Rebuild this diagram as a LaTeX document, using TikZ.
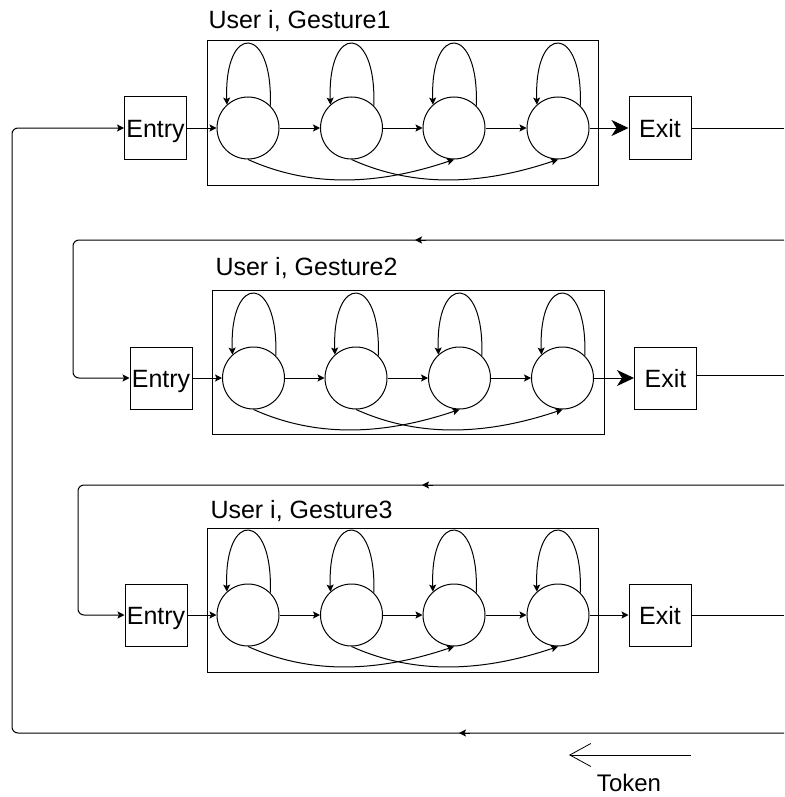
\documentclass[tikz,border=0pt]{standalone}
\usepackage{fontspec}
\setmainfont{Liberation Sans}
\usetikzlibrary{arrows.meta}
\begin{document}
\begin{tikzpicture}[x=1pt,y=-1pt, line width=1pt,
  box/.style={draw, minimum width=62pt, minimum height=62pt, inner sep=0pt, text height=18pt, text depth=0pt, font=\fontsize{25}{29}\selectfont},
  st/.style={draw, circle, minimum size=62pt, inner sep=0pt},
  ttl/.style={anchor=base west, inner sep=0pt, font=\fontsize{25}{29}\selectfont},
  sa/.style={-{Stealth[length=7pt,width=7pt,inset=1.5pt]}},
  ba/.style={-{Stealth[length=17pt,width=16pt,inset=5pt]}},
]
\useasboundingbox (0,0) rectangle (784,797);

% ---------- Row 1 ----------
\node[ttl] (t1) at (208,29) {User i, Gesture1};
\draw (207,41) rectangle (598,185);
\node[box] (e1) at (155.5,128) {Entry};
\node[st] (a1) at (248,128) {};
\node[st] (a2) at (351.5,128) {};
\node[st] (a3) at (454,128) {};
\node[st] (a4) at (558,128) {};
\node[box] (x1) at (660,128) {Exit};
\coordinate (r1) at (784,128);

% ---------- Row 2 ----------
\node[ttl] (t2) at (215,275) {User i, Gesture2};
\draw (212,290) rectangle (604,434);
\node[box] (e2) at (161,378) {Entry};
\node[st] (b1) at (253.5,378) {};
\node[st] (b2) at (356,378) {};
\node[st] (b3) at (459.5,378) {};
\node[st] (b4) at (562.5,378) {};
\node[box] (x2) at (665.5,378) {Exit};
\coordinate (r2) at (784,375);

% ---------- Row 3 ----------
\node[ttl] (t3) at (210,518) {User i, Gesture3};
\draw (207,528) rectangle (598,672);
\node[box] (e3) at (156,615) {Entry};
\node[st] (d1) at (248,615) {};
\node[st] (d2) at (351.5,615) {};
\node[st] (d3) at (454,615) {};
\node[st] (d4) at (558,615) {};
\node[box] (x3) at (660,615) {Exit};
\coordinate (r3) at (784,615);

% ---------- internal edges ----------
\foreach \r/\e/\x/\big in {a/e1/x1/ba, b/e2/x2/ba, d/e3/x3/sa}{
  \draw[sa] (\e.east) -- (\r1.west);
  \draw[sa] (\r1.east) -- (\r2.west);
  \draw[sa] (\r2.east) -- (\r3.west);
  \draw[sa] (\r3.east) -- (\r4.west);
  \draw[\big] (\r4.east) -- (\x.west);
  \foreach \i in {1,2,3,4}{
    \draw[sa] (\r\i.45) .. controls +(3,-82) and +(-3,-82) .. (\r\i.132);
  }
  \draw[sa] (\r1.south) .. controls +(60,27) and +(-80,27) .. (\r3.south);
  \draw[sa] (\r2.south) .. controls +(60,27) and +(-80,27) .. (\r4.south);
}

% ---------- exit lines ----------
\draw (x1.east) -- (r1);
\draw (x2.east |- r2) -- (r2);
\draw (x3.east) -- (r3);

% ---------- feedback lines ----------
\coordinate (f0) at (784,733);
\coordinate (f1) at (784,240);
\coordinate (f2) at (784,485);
\draw[sa, rounded corners=6pt] (f0) -- (12,733) -- (12,128) -- (e1.west);
\draw[sa, rounded corners=6pt] (f1) -- (73,240) -- (73,378) -- (e2.west);
\draw[sa, rounded corners=6pt] (f2) -- (78,485) -- (78,615) -- (e3.west);
\draw[sa] (470,733) -- (459,733);
\draw[sa] (426,240) -- (415,240);
\draw[sa] (433,485) -- (422,485);

% ---------- token ----------
\coordinate (k1) at (691,755);
\coordinate (k2) at (569,755);
\draw[-{Straight Barb[length=21pt,width=23pt]}, line width=0.8pt] (k1) -- (k2);
\node[anchor=base, inner sep=0pt, font=\fontsize{24}{28}\selectfont] (tok) at (629,791) {Token};
\end{tikzpicture}
\end{document}
